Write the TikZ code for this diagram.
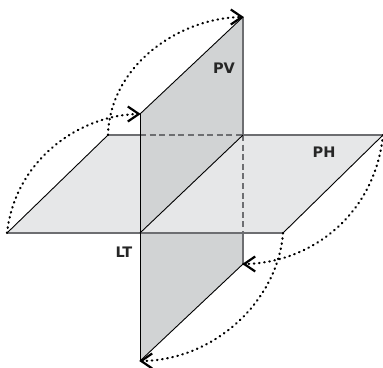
\documentclass[tikz,border=0pt]{standalone}
\usepackage{fontspec}
\setmainfont{DejaVu Sans}
\usepackage{xcolor}
\usetikzlibrary{decorations.markings}
\definecolor{planeH}{HTML}{E6E7E8}
\definecolor{planeV}{HTML}{D1D3D4}
\definecolor{edgeGray}{HTML}{6D6E71}

\begin{document}
\begin{tikzpicture}[
  x=1pt,y=-1pt,
  every node/.style={font=\bfseries\fontsize{14.5}{15}\selectfont,text=black!85,inner sep=0pt},
  hfill/.style={fill=planeH,draw=none},
  vfill/.style={fill=planeV,draw=none},
  thinedge/.style={draw=black,line width=0.9pt},
  grayedge/.style={draw=edgeGray,line width=1.4pt},
  hidden/.style={draw=edgeGray,line width=1.4pt,dash pattern=on 6pt off 3.6pt},
  chevron/.style={draw=black,solid,line cap=butt,line width=2.2pt},
  turn/.style={line width=2.2pt,line cap=round,dash pattern=on 0.6pt off 4.6pt,
    postaction={decorate,decoration={markings,mark=at position 0.999 with {\draw[chevron] (-12pt,7.5pt) -- (-1pt,0pt) -- (-12pt,-7.5pt);}}}}
]
\useasboundingbox (0,0) rectangle (383,367);

% plane PH
\coordinate (hfl) at (7,233);
\coordinate (hbl) at (108,135);
\coordinate (hbr) at (383,135);
\coordinate (hfr) at (283,233);
% plane PV
\coordinate (vtf) at (140,114);
\coordinate (vtb) at (243,17);
\coordinate (vbb) at (243,264);
\coordinate (vbf) at (140,361);
% line LT
\coordinate (ltf) at (140,233);
\coordinate (ltb) at (243,135);
\coordinate (vmf) at (140,135);
\coordinate (vmb) at (243,233);

\fill[hfill] (hfl) -- (hbl) -- (hbr) -- (hfr) -- cycle;
\fill[vfill] (vtf) -- (vtb) -- (ltb) -- (ltf) -- cycle;
\fill[vfill] (ltf) -- (vmb) -- (vbb) -- (vbf) -- cycle;

\draw[grayedge] (hbl) -- (vmf);
\draw[grayedge] (ltb) -- (hbr);
\draw[grayedge] (hfl) -- (hfr);
\draw[grayedge] (vtb) -- (ltb);
\draw[grayedge] (vmb) -- (vbb);
\draw[hidden] (vmf) -- (ltb);
\draw[hidden] (ltb) -- (vmb);
\draw[thinedge] (hfl) -- (hbl);
\draw[thinedge] (hbr) -- (hfr);
\draw[thinedge] (vtf) -- (vtb);
\draw[thinedge] (vbb) -- (vbf);
\draw[thinedge] (vtf) -- (vbf);
\draw[thinedge] (ltf) -- (ltb);

\draw[turn] (hfl) .. controls (15,160) and (80,114) .. (vtf);
\draw[turn] (hbl) .. controls (110,65) and (180,17) .. (vtb);
\draw[turn] (hbr) .. controls (375,215) and (310,264) .. (vbb);
\draw[turn] (hfr) .. controls (278,300) and (215,361) .. (vbf);

\node (pv) at (224,68) {PV};
\node (ph) at (324,152) {PH};
\node (lt) at (124,252) {LT};
\end{tikzpicture}
\end{document}
